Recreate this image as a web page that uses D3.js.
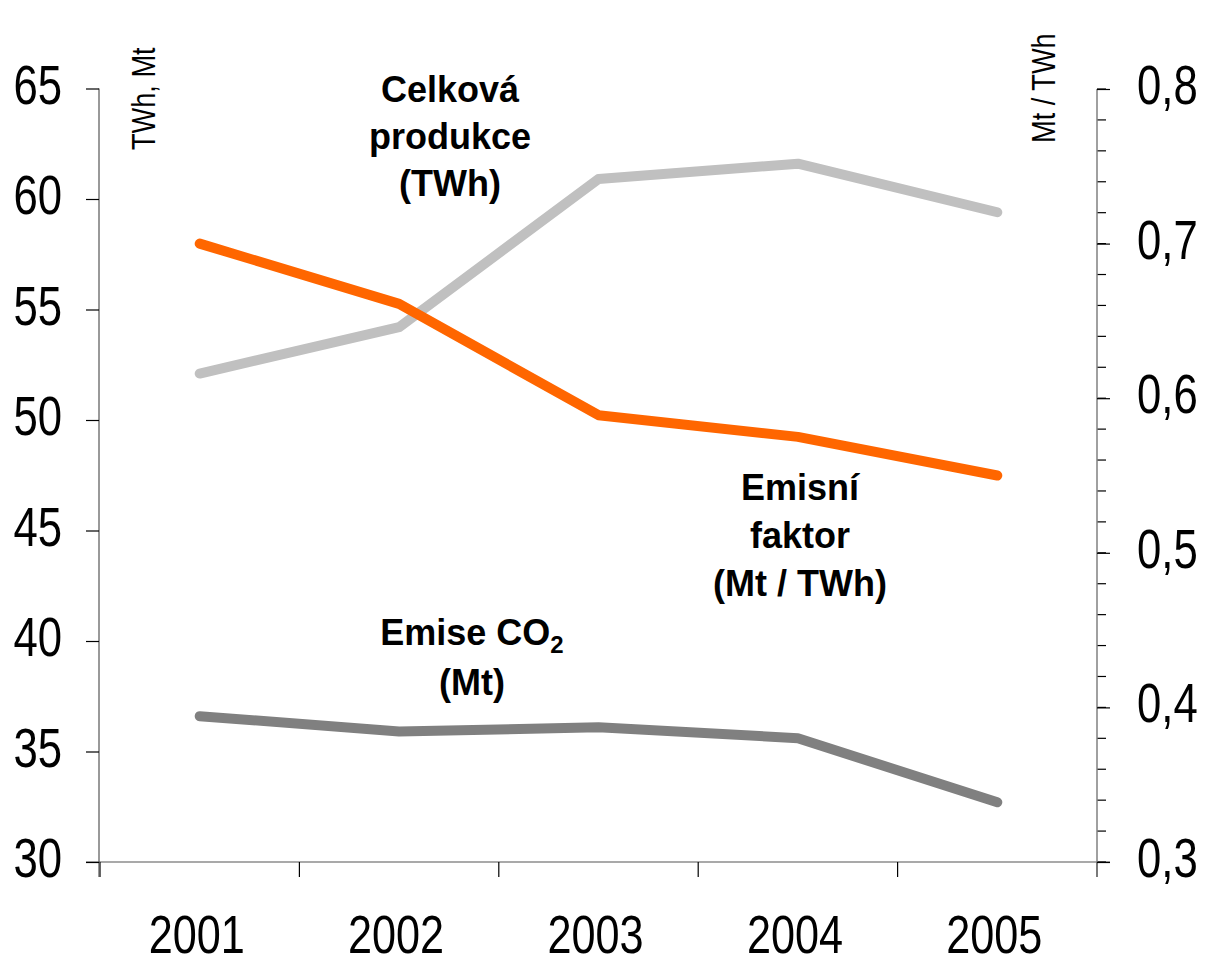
<!DOCTYPE html>
<html>
<head>
<meta charset="utf-8">
<script src="https://cdn.jsdelivr.net/npm/d3@7"></script>
<style>
  html, body { margin: 0; padding: 0; background: #fff; }
  svg { display: block; font-family: "Liberation Sans", Arial, sans-serif; }
</style>
</head>
<body>
<svg id="chart" width="1206" height="968"></svg>
<script>
// ---- data ----
const years = ["2001", "2002", "2003", "2004", "2005"];
const production = [52.1, 54.2, 60.9, 61.6, 59.4];   // Celková produkce (TWh)
const emissions = [36.6, 35.9, 36.1, 35.6, 32.7];    // Emise CO2 (Mt)
const factor = [0.700, 0.661, 0.589, 0.575, 0.550];  // Emisní faktor (Mt / TWh)
const leftTicks = [30, 35, 40, 45, 50, 55, 60, 65];
const rightTicks = [0.3, 0.4, 0.5, 0.6, 0.7, 0.8];
const rightMinorTicks = d3.range(0.30, 0.8001, 0.02).map(v => +v.toFixed(2));

const svg = d3.select("#chart");
const x = d3.scaleBand().domain(years).range([100, 1097]);
const yL = d3.scaleLinear().domain([30, 65]).range([862, 88.5]);
const yR = d3.scaleLinear().domain([0.3, 0.8]).range([862, 89]);
const cx = d => x(d) + x.bandwidth() / 2;

const SX = 0.78;

// ---- x axis ----
const gx = svg.append("g").attr("transform", "translate(0,862)");
gx.append("line").attr("x1", 86).attr("x2", 1110).attr("y1", 0).attr("y2", 0)
  .attr("stroke", "#555").attr("stroke-width", 1.2);
const bounds = years.map(d => x(d)).concat([x.range()[1]]);
gx.selectAll("line.bt").data(bounds).join("line").attr("class", "bt")
  .attr("x1", d => d).attr("x2", d => d).attr("y1", 0).attr("y2", 15)
  .attr("stroke", "#000").attr("stroke-width", 1.2);
gx.selectAll("text.yr").data(years).join("text").attr("class", "yr")
  .attr("transform", d => `translate(${cx(d) - 3},91) scale(0.8,1)`)
  .attr("text-anchor", "middle").attr("font-size", 54).attr("fill", "#000")
  .text(d => d);

// ---- left axis ----
const gl = svg.append("g").attr("transform", "translate(99,0)")
  .call(d3.axisLeft(yL).tickValues(leftTicks).tickSize(13).tickSizeOuter(0).tickFormat(d3.format("d")));
gl.select(".domain").attr("stroke", "#555").attr("stroke-width", 1.2).attr("d", "M0,88.5V877");
gl.selectAll(".tick line").attr("stroke", "#000").attr("stroke-width", 1.2);
gl.selectAll(".tick text")
  .attr("font-size", 56).attr("fill", "#000")
  .attr("x", null).attr("dy", null)
  .attr("transform", `translate(-37,14.5) scale(${SX},1)`);
gl.attr("font-family", null).attr("font-size", null);

// ---- right axis ----
const gr = svg.append("g").attr("transform", "translate(1097,0)");
gr.selectAll("line.minor").data(rightMinorTicks).join("line").attr("class", "minor")
  .attr("x1", 0).attr("x2", 9).attr("y1", d => yR(d)).attr("y2", d => yR(d))
  .attr("stroke", "#000").attr("stroke-width", 1.2);
gr.call(d3.axisRight(yR).tickValues(rightTicks).tickSize(13).tickSizeOuter(0).tickFormat(d => d3.format(".1f")(d).replace(".", ",")));
gr.select(".domain").attr("stroke", "#808080").attr("stroke-width", 1.5).attr("d", "M0,89V877");
gr.selectAll(".tick line").attr("stroke", "#000").attr("stroke-width", 1.2);
gr.selectAll(".tick text")
  .attr("font-size", 56).attr("fill", "#000")
  .attr("x", null).attr("dy", null)
  .attr("transform", `translate(40,14.5) scale(${SX},1)`);
gr.attr("font-family", null).attr("font-size", null);

// ---- axis titles ----
svg.append("text").attr("transform", `translate(155,150) rotate(-90) scale(0.8,1)`)
  .attr("font-size", 34).attr("fill", "#000").text("TWh, Mt");
svg.append("text").attr("transform", `translate(1055,143) rotate(-90) scale(0.8,1)`)
  .attr("font-size", 34).attr("fill", "#000").text("Mt / TWh");

// ---- lines ----
const lineL = d3.line().x((d, i) => cx(years[i])).y(d => yL(d));
const lineR = d3.line().x((d, i) => cx(years[i])).y(d => yR(d));
const style = (p, c) => p.attr("fill", "none").attr("stroke", c).attr("stroke-width", 10)
  .attr("stroke-linecap", "round").attr("stroke-linejoin", "round");

svg.append("path").datum(production).attr("d", lineL).call(style, "#c0c0c0");
svg.append("path").datum(emissions).attr("d", lineL).call(style, "#808080");
svg.append("path").datum(factor).attr("d", lineR).call(style, "#ff6600");

// ---- series labels ----
function label(lines, xc, y0, step) {
  const t = svg.append("text").attr("text-anchor", "middle").attr("font-size", 36)
    .attr("font-weight", "bold").attr("fill", "#000");
  lines.forEach((l, i) => {
    const ts = t.append("tspan").attr("x", xc).attr("y", y0 + i * step);
    if (Array.isArray(l)) {
      ts.text(l[0]);
      t.append("tspan").attr("font-size", 24).attr("dy", 8).text(l[1]);
    } else ts.text(l);
  });
}
label(["Celková", "produkce", "(TWh)"], 450, 102, 47);
label(["Emisní", "faktor", "(Mt / TWh)"], 800, 500, 48);
label([["Emise CO", "2"], "(Mt)"], 472, 645, 50);
</script>
</body>
</html>
